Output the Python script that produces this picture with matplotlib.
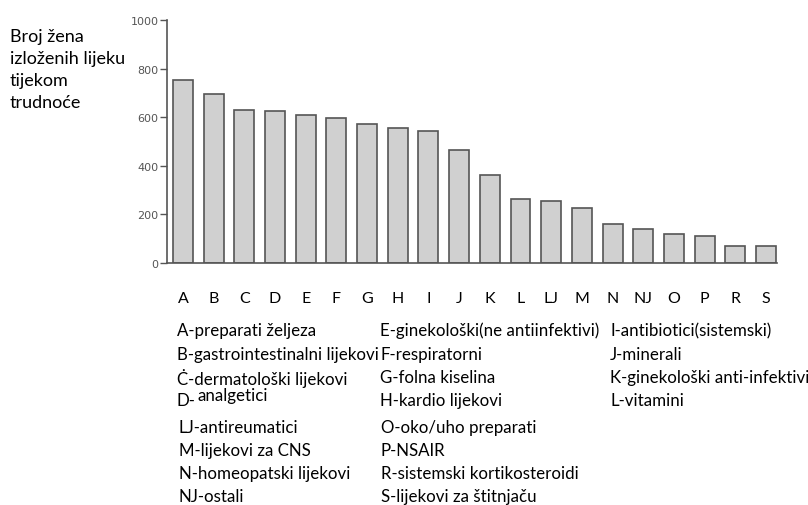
import matplotlib.pyplot as plt
import numpy as np

# data
cats = ['A', 'B', 'C', 'D', 'E', 'F', 'G', 'H', 'I', 'J',
        'K', 'L', 'LJ', 'M', 'N', 'NJ', 'O', 'P', 'R', 'S']
counts = [753, 697, 631, 625, 607, 597, 572, 556, 542, 466,
          364, 263, 255, 227, 162, 140, 119, 113, 72, 70]
yticks = [0, 200, 400, 600, 800, 1000]

ylab = 'Broj žena\nizloženih lijeku\ntijekom\ntrudnoće'

legend_col1 = ['A-preparati željeza', 'B-gastrointestinalni lijekovi',
               'Ċ-dermatološki lijekovi', 'D-']
legend_col1b = ['LJ-antireumatici', 'M-lijekovi za CNS',
                'N-homeopatski lijekovi', 'NJ-ostali']
legend_col2 = ['E-ginekološki(ne antiinfektivi)', 'F-respiratorni',
               'G-folna kiselina', 'H-kardio lijekovi']
legend_col2b = ['O-oko/uho preparati', 'P-NSAIR',
                'R-sistemski kortikosteroidi', 'S-lijekovi za štitnjaču']
legend_col3 = ['I-antibiotici(sistemski)', 'J-minerali',
               'K-ginekološki anti-infektivi', 'L-vitamini']

plt.rcParams['font.family'] = ['Lato', 'DejaVu Sans']

W, H = 808, 506
fig = plt.figure(figsize=(W / 100, H / 100), dpi=100)
ax = fig.add_axes([167 / W, 1 - 264 / H, (777 - 167) / W, (264 - 21) / H])

x = np.arange(len(cats))
ax.bar(x, counts, width=0.65, color='#d0d0d0', edgecolor='#555555', linewidth=1.2)
ax.set_xlim(-0.52, len(cats) - 0.64)
ax.set_ylim(0, 1000)
ax.set_yticks(yticks)
ax.set_yticklabels([str(v) for v in yticks], fontsize=8, color='#555555',
                   family='DejaVu Sans')
ax.set_xticks(x)
ax.set_xticklabels(cats, fontsize=11.5)
ax.tick_params(axis='x', length=0, pad=20)
ax.tick_params(axis='y', length=5, color='#555555', width=1, pad=1)
for s in ['top', 'right']:
    ax.spines[s].set_visible(False)
ax.spines['left'].set_color('#555555')
ax.spines['bottom'].set_color('#555555')
ax.spines['left'].set_linewidth(1.2)
ax.spines['bottom'].set_linewidth(1.2)

fig.text(10 / W, 1 - 29 / H, ylab, fontsize=13, va='top', ha='left',
         linespacing=1.45)

def col(lines, x0, ys, **kw):
    for t, y in zip(lines, ys):
        fig.text(x0 / W, 1 - y / H, t, fontsize=12.2, va='center', ha='left', **kw)

rows1 = [331, 355, 378, 401]
rows2 = [428, 451, 474, 497]
col(legend_col1, 177, rows1)
fig.text(197 / W, 1 - 396 / H, 'analgetici', fontsize=12.2, va='center', ha='left')
col(legend_col1b, 179, rows2)
col(legend_col2, 380, rows1)
col(legend_col2b, 381, rows2)
col(legend_col3, 610, rows1)

fig.savefig('out.png', dpi=100)
